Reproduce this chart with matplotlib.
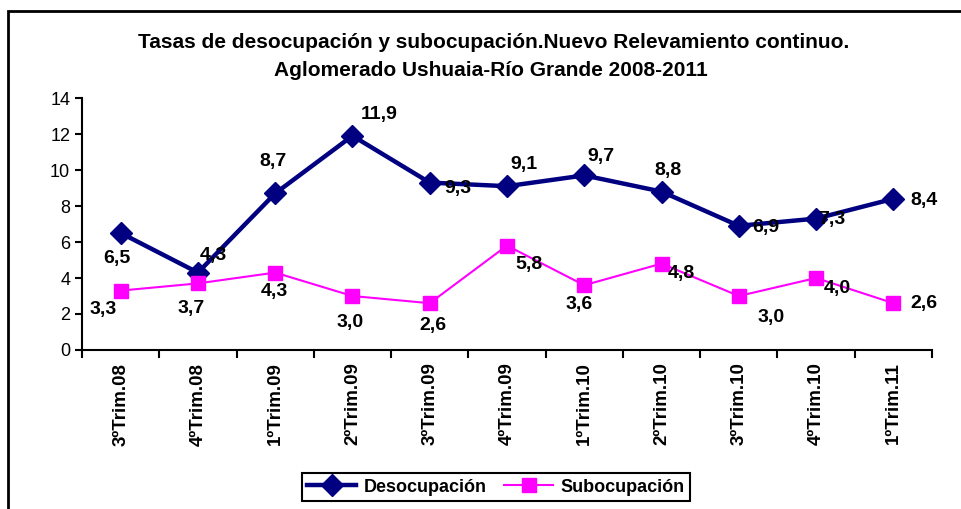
import matplotlib.pyplot as plt
from matplotlib.patches import Rectangle
import numpy as np

plt.rcParams['font.family'] = ['Liberation Sans', 'DejaVu Sans']

trimestres = ['3ºTrim.08', '4ºTrim.08', '1ºTrim.09', '2ºTrim.09', '3ºTrim.09', '4ºTrim.09',
              '1ºTrim.10', '2ºTrim.10', '3ºTrim.10', '4ºTrim.10', '1ºTrim.11']
desocupacion = [6.5, 4.3, 8.7, 11.9, 9.3, 9.1, 9.7, 8.8, 6.9, 7.3, 8.4]
subocupacion = [3.3, 3.7, 4.3, 3.0, 2.6, 5.8, 3.6, 4.8, 3.0, 4.0, 2.6]

# label offsets in pixels (dx, dy) relative to each point
off_deso = [(-4, -25), (15, 17), (-2, 32), (27, 21), (28, -6), (17, 22), (17, 19), (6, 21), (27, -2), (16, -1), (31, -2)]
off_sub = [(-17, -19), (-7, -25), (-1, -19), (-2, -26), (3, -22), (22, -19), (-5, -19), (20, -10), (32, -21), (21, -10), (31, 0)]

fig = plt.figure(figsize=(9.61, 5.09), dpi=100)
fig.patches.append(Rectangle((8 / 961, -0.1), 1.2, 1 - 10.5 / 509 + 0.1, transform=fig.transFigure,
                             fill=False, edgecolor='black', linewidth=2))
ax = fig.add_axes([82 / 961, 1 - 350 / 509, 850 / 961, 252 / 509])

x = np.arange(len(trimestres))
ax.plot(x, desocupacion, color='#000080', linewidth=3.2, marker='D', markersize=11,
        label='Desocupación')
ax.plot(x, subocupacion, color='#FF00FF', linewidth=1.5, marker='s', markersize=10,
        label='Subocupación')

for i in range(len(x)):
    ax.annotate(f'{desocupacion[i]:.1f}'.replace('.', ','), (x[i], desocupacion[i]),
                xytext=off_deso[i], textcoords='offset pixels', ha='center', va='center',
                fontsize=14, fontweight='bold')
    ax.annotate(f'{subocupacion[i]:.1f}'.replace('.', ','), (x[i], subocupacion[i]),
                xytext=off_sub[i], textcoords='offset pixels', ha='center', va='center',
                fontsize=14, fontweight='bold')

ax.set_xlim(-0.5, len(x) - 0.5)
ax.set_ylim(0, 14)
ax.set_yticks(range(0, 15, 2))
ax.set_xticks(x)
ax.set_xticklabels(trimestres, rotation=90, fontweight='bold', fontsize=13.5)
ax.set_xticks(np.arange(-0.5, len(x), 1), minor=True)
ax.tick_params(axis='x', which='major', length=0, pad=9)
ax.tick_params(axis='x', which='minor', length=6, width=1.5, direction='out')
ax.tick_params(axis='y', length=5, width=1.5, labelsize=13, direction='out')
for s in ['top', 'right']:
    ax.spines[s].set_visible(False)
for s in ['left', 'bottom']:
    ax.spines[s].set_linewidth(1.5)

fig.text(494 / 961, 1 - 42 / 509, 'Tasas de desocupación y subocupación.Nuevo Relevamiento continuo.',
         ha='center', va='center', fontsize=15, fontweight='bold')
fig.text(491 / 961, 1 - 70 / 509, 'Aglomerado Ushuaia-Río Grande 2008-2011',
         ha='center', va='center', fontsize=15, fontweight='bold')

leg = fig.legend(loc='center', bbox_to_anchor=(496 / 961, 1 - 487 / 509), ncol=2,
                 fancybox=False, edgecolor='black', framealpha=1,
                 prop={'weight': 'bold', 'size': 13}, handlelength=2.7, columnspacing=1.0,
                 borderpad=0.3, handletextpad=0.4)
leg.get_frame().set_linewidth(1.5)

fig.savefig('out.png', dpi=100)
